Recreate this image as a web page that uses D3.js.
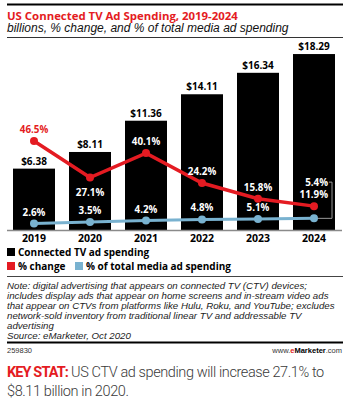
<!DOCTYPE html>
<html>
<head>
<meta charset="utf-8">
<script src="https://cdn.jsdelivr.net/npm/d3@7"></script>
<style>
  body { margin: 0; background: #fff; }
  svg { display: block; }
</style>
</head>
<body>
<svg id="chart" width="348" height="404"></svg>
<script>
// Chart data
var years = ['2019', '2020', '2021', '2022', '2023', '2024'];
var spending = [6.38, 8.11, 11.36, 14.11, 16.34, 18.29];
var pctChange = [46.5, 27.1, 40.1, 24.2, 15.8, 11.9];
var pctTotal = [2.6, 3.5, 4.2, 4.8, 5.1, 5.4];

var noteLines = [
  'Note: digital advertising that appears on connected TV (CTV) devices;',
  'includes display ads that appear on home screens and in-stream video ads',
  'that appear on CTVs from platforms like Hulu, Roku, and YouTube; excludes',
  'network-sold inventory from traditional linear TV and addressable TV',
  'advertising',
  'Source: eMarketer, Oct 2020'
];

var RED = '#e41b22', BLUE = '#79b2d0';
var numFont = '"Open Sans", sans-serif';
var sansFont = '"Liberation Sans", Arial, sans-serif';

var svg = d3.select('#chart');
var data = years.map(function (y, i) {
  return { year: y, spend: spending[i], change: pctChange[i], total: pctTotal[i] };
});

// Header
svg.append('line').attr('x1', 7).attr('x2', 343).attr('y1', 4.5).attr('y2', 4.5)
  .attr('stroke', '#000').attr('stroke-width', 2);
svg.append('text').attr('x', 7).attr('y', 19.5)
  .attr('font-family', numFont).attr('font-weight', 700).attr('font-size', 11.4)
  .attr('fill', RED).text('US Connected TV Ad Spending, 2019-2024');
svg.append('text').attr('x', 7).attr('y', 32)
  .attr('font-family', sansFont).attr('font-style', 'italic')
  .attr('font-size', 12).attr('fill', '#111')
  .text('billions, % change, and % of total media ad spending');
svg.append('line').attr('x1', 7).attr('x2', 343).attr('y1', 37.5).attr('y2', 37.5)
  .attr('stroke', '#333').attr('stroke-width', 1);

// Scales
var x = d3.scaleBand().domain(years).range([6, 342]).paddingInner(0.25).paddingOuter(0.125);
var yBar = d3.scaleLinear().domain([0, 20]).range([230, 37.6]);
var yPct = d3.scaleLinear().domain([0, 50]).range([228.5, 134.5]);
var cx = function (d) { return x(d.year) + x.bandwidth() / 2; };

var plot = svg.append('g');

// Bars
plot.selectAll('rect.bar').data(data).enter().append('rect')
  .attr('class', 'bar')
  .attr('x', function (d) { return x(d.year); })
  .attr('width', x.bandwidth())
  .attr('y', function (d) { return yBar(d.spend); })
  .attr('height', function (d) { return yBar(0) - yBar(d.spend); })
  .attr('fill', '#000');

plot.selectAll('text.barlab').data(data).enter().append('text')
  .attr('class', 'barlab')
  .attr('x', cx)
  .attr('y', function (d) { return yBar(d.spend) - 4; })
  .attr('text-anchor', 'middle')
  .attr('font-family', numFont).attr('font-weight', 700).attr('font-size', 10)
  .text(function (d) { return '$' + d.spend.toFixed(2); });

// Axis
var xAxis = d3.axisBottom(x).tickSize(0).tickPadding(5);
var axisG = plot.append('g').attr('transform', 'translate(0,230)').call(xAxis);
axisG.select('.domain').remove();
axisG.selectAll('text')
  .attr('font-family', numFont).attr('font-weight', 700).attr('font-size', 10.5)
  .attr('fill', '#000');
plot.append('line').attr('x1', 7).attr('x2', 342).attr('y1', 230.5).attr('y2', 230.5)
  .attr('stroke', '#8a8a8a').attr('stroke-width', 1.5);

// Lines
var lineChange = d3.line().x(cx).y(function (d) { return yPct(d.change); });
var lineTotal = d3.line().x(cx).y(function (d) { return yPct(d.total); });

plot.append('path').datum(data).attr('d', lineTotal)
  .attr('fill', 'none').attr('stroke', BLUE).attr('stroke-width', 3);
plot.selectAll('circle.tot').data(data).enter().append('circle')
  .attr('class', 'tot').attr('cx', cx)
  .attr('cy', function (d) { return yPct(d.total); })
  .attr('r', 4).attr('fill', BLUE);

plot.append('path').datum(data).attr('d', lineChange)
  .attr('fill', 'none').attr('stroke', RED).attr('stroke-width', 3.5);
plot.selectAll('circle.chg').data(data).enter().append('circle')
  .attr('class', 'chg').attr('cx', cx)
  .attr('cy', function (d) { return yPct(d.change); })
  .attr('r', 4).attr('fill', RED);

// Point labels
var last = data.length - 1;
plot.selectAll('text.chglab').data(data).enter().append('text')
  .attr('class', 'chglab')
  .attr('x', function (d, i) { return i === last ? cx(d) + 14 : cx(d); })
  .attr('y', function (d, i) {
    if (i === 1) return yPct(d.change) + 18;
    return yPct(d.change) - 8;
  })
  .attr('text-anchor', function (d, i) { return i === last ? 'end' : 'middle'; })
  .attr('font-family', numFont).attr('font-weight', 700).attr('font-size', 9.8)
  .attr('fill', function (d, i) { return i === 0 ? RED : '#fff'; })
  .text(function (d) { return d.change.toFixed(1) + '%'; });

plot.selectAll('text.totlab').data(data).enter().append('text')
  .attr('class', 'totlab')
  .attr('x', function (d, i) { return i === last ? cx(d) + 14 : cx(d); })
  .attr('y', function (d, i) {
    if (i === last) return yPct(data[i].change) - 20.5;
    return yPct(d.total) - 8;
  })
  .attr('text-anchor', function (d, i) { return i === last ? 'end' : 'middle'; })
  .attr('font-family', numFont).attr('font-weight', 700).attr('font-size', 9.8)
  .attr('fill', '#fff')
  .text(function (d) { return d.total.toFixed(1) + '%'; });

// Bracket for last % of total label
var lp = data[last];
var bx = cx(lp) + 18, by = yPct(lp.change) - 24;
plot.append('path')
  .attr('d', 'M' + (bx - 3) + ',' + by + 'H' + bx + 'V' + yPct(lp.total) + 'H' + (cx(lp) + 4))
  .attr('fill', 'none').attr('stroke', '#999').attr('stroke-width', 1);

// Legend
var legend = [
  { label: 'Connected TV ad spending', color: '#000', x: 7, y: 248 },
  { label: '% change', color: RED, x: 7, y: 262 },
  { label: '% of total media ad spending', color: BLUE, x: 75, y: 262 }
];
var lg = svg.selectAll('g.leg').data(legend).enter().append('g')
  .attr('transform', function (d) { return 'translate(' + d.x + ',' + d.y + ')'; });
lg.append('rect').attr('width', 8).attr('height', 8).attr('fill', function (d) { return d.color; });
lg.append('text').attr('x', 11).attr('y', 8)
  .attr('font-family', numFont).attr('font-weight', 700).attr('font-size', 10)
  .attr('fill', '#000').text(function (d) { return d.label; });

svg.append('line').attr('x1', 7).attr('x2', 343).attr('y1', 276.5).attr('y2', 276.5)
  .attr('stroke', '#444').attr('stroke-width', 1);

// Notes
svg.append('g').selectAll('text').data(noteLines).enter().append('text')
  .attr('x', 7).attr('y', function (d, i) { return 288.5 + i * 10; })
  .attr('font-family', sansFont).attr('font-style', 'italic')
  .attr('font-size', 9.7).attr('fill', '#222')
  .text(function (d) { return d; });

svg.append('line').attr('x1', 7).attr('x2', 343).attr('y1', 342.5).attr('y2', 342.5)
  .attr('stroke', '#000').attr('stroke-width', 2);
svg.append('text').attr('x', 7).attr('y', 352.5)
  .attr('font-family', sansFont).attr('font-size', 7.5)
  .attr('fill', '#333').text('259830');
var site = svg.append('text').attr('x', 342).attr('y', 352.5).attr('text-anchor', 'end')
  .attr('font-family', sansFont).attr('font-size', 7.5)
  .attr('fill', '#333');
site.append('tspan').text('www.');
site.append('tspan').attr('fill', RED).attr('font-weight', 700).text('e');
site.append('tspan').attr('font-weight', 700).attr('fill', '#000').text('Marketer');
site.append('tspan').text('.com');

// Key stat
var ks = svg.append('text').attr('x', 7).attr('y', 377)
  .attr('font-family', 'Roboto, sans-serif').attr('font-size', 14.5).attr('fill', '#3a3a3a')
  .attr('font-weight', 300).attr('letter-spacing', -0.4);
ks.append('tspan').attr('fill', RED).attr('font-weight', 700).attr('letter-spacing', -0.9)
  .text('KEY STAT:');
ks.append('tspan').text(' US CTV ad spending will increase 27.1% to');
svg.append('text').attr('x', 7).attr('y', 396)
  .attr('font-family', 'Roboto, sans-serif').attr('font-size', 14.5).attr('fill', '#3a3a3a')
  .attr('font-weight', 300).attr('letter-spacing', -0.4)
  .text('$8.11 billion in 2020.');
</script>
</body>
</html>
